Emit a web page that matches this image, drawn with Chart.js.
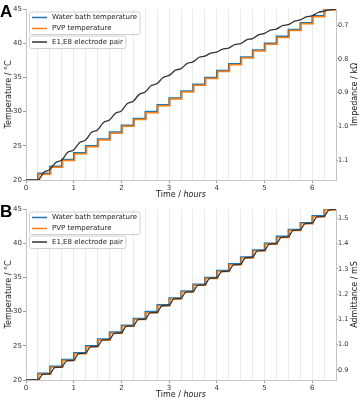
<!doctype html>
<html lang="en">
<head>
    <meta charset="utf-8">
    <title>Temperature steps</title>
    <script src="https://cdn.jsdelivr.net/npm/chart.js@4.4.0/dist/chart.umd.min.js"></script>
    <style>
        body { margin: 0; background: #fff; }
        .panel { width: 364px; height: 200px; position: relative; }
    </style>
</head>
<body>
    <div class="panel"><canvas id="chartA" width="364" height="200"></canvas></div>
    <div class="panel"><canvas id="chartB" width="364" height="200"></canvas></div>
<script>
    // water bath set points (hours, degC)
    const bathTimes = [0, 0.25, 0.5, 0.75, 1, 1.25, 1.5, 1.75, 2, 2.25, 2.5, 2.75, 3, 3.25, 3.5, 3.75, 4,
        4.25, 4.5, 4.75, 5, 5.25, 5.5, 5.75, 6, 6.25, 6.5];
    const bathTemps = [20, 21, 22, 23, 24, 25, 26, 27, 28, 29, 30, 31, 32, 33, 34, 35, 36,
        37, 38, 39, 40, 41, 42, 43, 44, 45, 45];

    // PVP temperature, lags a little behind the bath
    const pvpTimes = [0, 0.27, 0.52, 0.77, 1.02, 1.27, 1.52, 1.77, 2.02, 2.27, 2.52, 2.77, 3.02, 3.27, 3.52, 3.77, 4.02,
        4.27, 4.52, 4.77, 5.02, 5.27, 5.52, 5.77, 6.02, 6.27, 6.5];
    const pvpTemps = [20, 20.85, 21.85, 22.85, 23.85, 24.85, 25.85, 26.85, 27.85, 28.85, 29.85, 30.85, 31.85, 32.85, 33.85, 34.85, 35.85,
        36.85, 37.85, 38.85, 39.85, 40.85, 41.85, 42.85, 43.85, 44.85, 44.85];

    // E1,E8 impedance (kOhm)
    const impTimes = [0, 0.25, 0.375, 0.5, 0.625, 0.75, 0.875, 1, 1.125, 1.25, 1.375, 1.5, 1.625, 1.75, 1.875,
        2, 2.125, 2.25, 2.375, 2.5, 2.625, 2.75, 2.875, 3, 3.125, 3.25, 3.375, 3.5, 3.625, 3.75, 3.875,
        4, 4.125, 4.25, 4.375, 4.5, 4.625, 4.75, 4.875, 5, 5.125, 5.25, 5.375, 5.5, 5.625, 5.75, 5.875,
        6, 6.125, 6.25, 6.375, 6.5];
    const impValues = [1.158, 1.158, 1.135, 1.127, 1.106, 1.099, 1.076, 1.069, 1.047, 1.040, 1.017, 1.010, 0.988, 0.981, 0.961,
        0.954, 0.932, 0.925, 0.905, 0.898, 0.879, 0.873, 0.855, 0.849, 0.834, 0.829, 0.814, 0.809, 0.796, 0.792, 0.783,
        0.780, 0.771, 0.768, 0.758, 0.755, 0.744, 0.740, 0.729, 0.725, 0.715, 0.712, 0.702, 0.699, 0.689, 0.685, 0.676,
        0.673, 0.663, 0.659, 0.655, 0.653];

    // E1,E8 admittance (mS)
    const admTimes = [0, 0.25, 0.35, 0.5, 0.6, 0.75, 0.85, 1, 1.1, 1.25, 1.35, 1.5, 1.6, 1.75, 1.85,
        2, 2.1, 2.25, 2.35, 2.5, 2.6, 2.75, 2.85, 3, 3.1, 3.25, 3.35, 3.5, 3.6, 3.75, 3.85,
        4, 4.1, 4.25, 4.35, 4.5, 4.6, 4.75, 4.85, 5, 5.1, 5.25, 5.35, 5.5, 5.6, 5.75, 5.85,
        6, 6.1, 6.25, 6.35, 6.5];
    const admValues = [0.860, 0.860, 0.882, 0.884, 0.909, 0.911, 0.936, 0.938, 0.964, 0.966, 0.991, 0.993, 1.018, 1.020, 1.045,
        1.047, 1.072, 1.074, 1.099, 1.101, 1.126, 1.128, 1.154, 1.156, 1.181, 1.183, 1.208, 1.210, 1.235, 1.237, 1.262,
        1.264, 1.289, 1.291, 1.316, 1.318, 1.344, 1.346, 1.371, 1.373, 1.398, 1.400, 1.425, 1.427, 1.452, 1.454, 1.479,
        1.481, 1.506, 1.508, 1.533, 1.536];

    const tempTicks = [20, 25, 30, 35, 40, 45];
    const impTicks = [0.7, 0.8, 0.9, 1.0, 1.1];
    const admTicks = [0.9, 1.0, 1.1, 1.2, 1.3, 1.4, 1.5];

    const FONT = '"DejaVu Sans", sans-serif';

    let pts = (xs, ys) => xs.map((x, i) => ({ x: x, y: ys[i] }));

    // titles, panel letter and the two legend boxes
    const decoPlugin = {
        id: 'deco',
        afterDraw(chart, args, opts) {
            const ctx = chart.ctx;
            const a = chart.chartArea;
            const midY = (a.top + a.bottom) / 2;
            ctx.save();
            ctx.fillStyle = '#000';
            ctx.font = 'bold 17px "Liberation Sans", Arial, sans-serif';
            ctx.textBaseline = 'alphabetic';
            ctx.textAlign = 'left';
            ctx.fillText(opts.letter, 0, 17);

            ctx.fillStyle = '#222';
            ctx.font = '8px ' + FONT;
            ctx.textBaseline = 'middle';
            ctx.textAlign = 'center';
            // left / right titles, both read bottom to top
            [[9, 'Temperature / °C'], [355, opts.rightTitle]].forEach(([x, txt]) => {
                ctx.save();
                ctx.translate(x, midY);
                ctx.rotate(-Math.PI / 2);
                ctx.fillText(txt, 0, 0);
                ctx.restore();
            });

            // x title with italic unit
            ctx.textAlign = 'left';
            ctx.textBaseline = 'alphabetic';
            ctx.font = '8px ' + FONT;
            const p1 = 'Time / ';
            const w1 = ctx.measureText(p1).width;
            ctx.font = 'italic 8px ' + FONT;
            const w2 = ctx.measureText('hours').width;
            const x0 = (a.left + a.right) / 2 - (w1 + w2) / 2;
            ctx.font = '8px ' + FONT;
            ctx.fillText(p1, x0, 197);
            ctx.font = 'italic 8px ' + FONT;
            ctx.fillText('hours', x0 + w1, 197);

            // legend boxes
            ctx.font = '7px ' + FONT;
            ctx.textBaseline = 'middle';
            const drawBox = (y, h, items) => {
                let tw = 0;
                items.forEach(it => tw = Math.max(tw, ctx.measureText(it.label).width));
                ctx.beginPath();
                ctx.roundRect(29.5, y + 0.5, 52 - 29.5 + tw + 3, h, 2);
                ctx.fillStyle = 'rgba(255,255,255,0.85)';
                ctx.fill();
                ctx.strokeStyle = '#d0d0d0';
                ctx.lineWidth = 1;
                ctx.stroke();
                items.forEach(it => {
                    ctx.beginPath();
                    ctx.moveTo(32, it.y);
                    ctx.lineTo(47, it.y);
                    ctx.strokeStyle = it.color;
                    ctx.lineWidth = 1.5;
                    ctx.stroke();
                    ctx.fillStyle = '#222';
                    ctx.fillText(it.label, 52, it.y);
                });
            };
            drawBox(11.5, 22.5, [
                { label: 'Water bath temperature', color: '#1f77b4', y: 17.5 },
                { label: 'PVP temperature', color: '#ff7f0e', y: 28.5 }
            ]);
            drawBox(35.5, 12.5, [
                { label: 'E1,E8 electrode pair', color: '#333333', y: 42 }
            ]);
            ctx.restore();
        }
    };

    let makeChart = (id, letter, rightTitle, rightData, rightTicks, rMin, rMax, rReverse) => {
        const quarterTicks = [];
        for (let q = 0; q <= 26; q++) quarterTicks.push({ value: q / 4 });

        return new Chart(document.getElementById(id), {
            type: 'line',
            data: {
                datasets: [{
                    label: 'E1,E8 electrode pair',
                    data: rightData,
                    yAxisID: 'y2',
                    borderColor: '#333333',
                    borderWidth: 1.3,
                    pointRadius: 0,
                    cubicInterpolationMode: 'monotone',
                    order: 0
                }, {
                    label: 'PVP temperature',
                    data: pts(pvpTimes, pvpTemps),
                    yAxisID: 'y',
                    borderColor: '#ff7f0e',
                    borderWidth: 1.5,
                    pointRadius: 0,
                    stepped: 'before',
                    order: 1
                }, {
                    label: 'Water bath temperature',
                    data: pts(bathTimes, bathTemps),
                    yAxisID: 'y',
                    borderColor: '#1f77b4',
                    borderWidth: 1.5,
                    pointRadius: 0,
                    stepped: 'before',
                    order: 2
                }]
            },
            options: {
                responsive: false,
                animation: false,
                devicePixelRatio: 1,
                layout: { padding: { top: 9, left: 0, right: 0, bottom: 0 } },
                plugins: {
                    legend: { display: false },
                    tooltip: { enabled: false },
                    deco: { letter: letter, rightTitle: rightTitle }
                },
                scales: {
                    x: {
                        type: 'linear',
                        min: 0,
                        max: 6.5,
                        afterBuildTicks: s => { s.ticks = quarterTicks; },
                        afterFit: s => { s.height = 20; },
                        ticks: {
                            autoSkip: false,
                            maxRotation: 0,
                            padding: 1,
                            color: '#333',
                            font: { family: FONT, size: 7 },
                            callback: v => Number.isInteger(v) ? String(v) : ''
                        },
                        grid: {
                            color: '#ebebeb',
                            tickLength: 3,
                            tickColor: c => Number.isInteger(c.tick.value) ? '#999' : 'rgba(0,0,0,0)'
                        },
                        border: { color: '#c4c4c4' }
                    },
                    y: {
                        position: 'left',
                        min: 20,
                        max: 45,
                        afterBuildTicks: s => { s.ticks = tempTicks.map(v => ({ value: v })); },
                        afterFit: s => { s.width = 26; },
                        ticks: { padding: 1, color: '#333', font: { family: FONT, size: 7 } },
                        grid: { drawOnChartArea: false, tickLength: 3, tickColor: '#999' },
                        border: { color: '#c4c4c4' }
                    },
                    y2: {
                        position: 'right',
                        min: rMin,
                        max: rMax,
                        reverse: rReverse,
                        afterBuildTicks: s => { s.ticks = rightTicks.map(v => ({ value: v })); },
                        afterFit: s => { s.width = 28; },
                        ticks: {
                            padding: 0,
                            color: '#333',
                            font: { family: FONT, size: 6.5 },
                            callback: v => v.toFixed(1)
                        },
                        grid: { drawOnChartArea: false, tickLength: 2, tickColor: '#999' },
                        border: { color: '#c4c4c4' }
                    }
                }
            },
            plugins: [decoPlugin]
        });
    };

    makeChart('chartA', 'A', 'Impedance / kΩ', pts(impTimes, impValues), impTicks, 0.6527, 1.158, true);
    makeChart('chartB', 'B', 'Admittance / mS', pts(admTimes, admValues), admTicks, 0.860, 1.537, false);
</script>
</body>
</html>
